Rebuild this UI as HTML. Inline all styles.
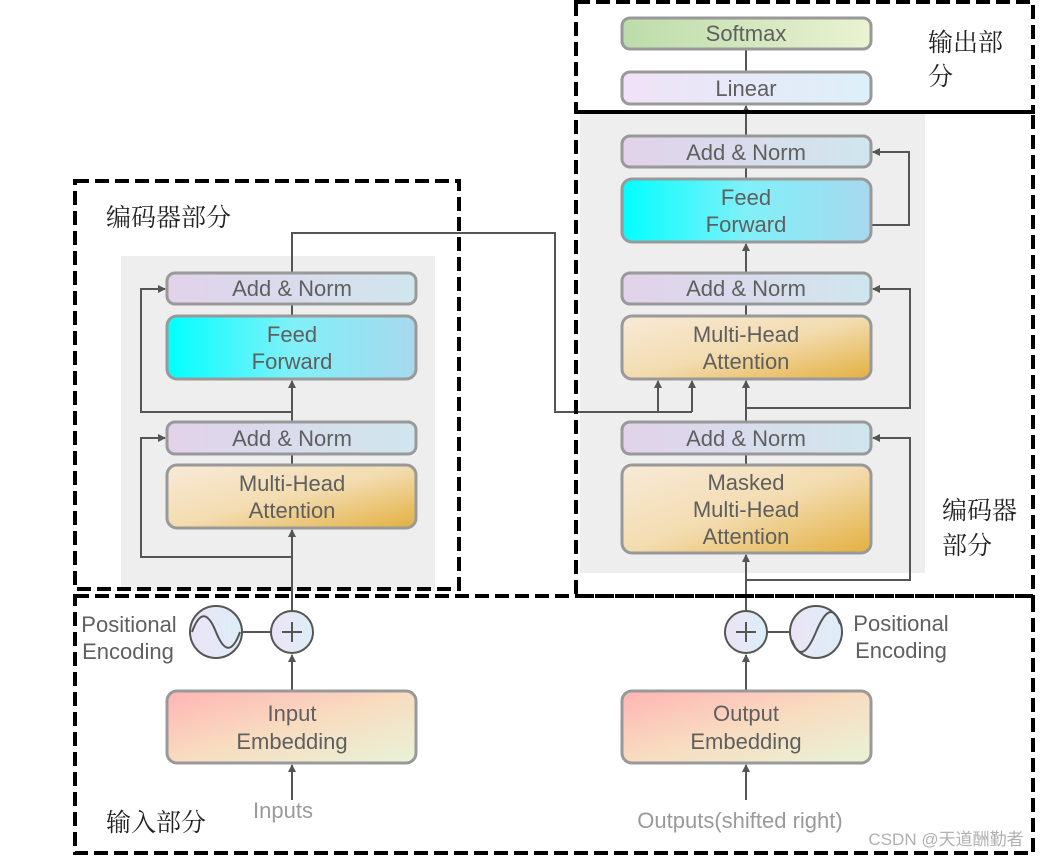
<!DOCTYPE html>
<html><head><meta charset="utf-8"><style>
html,body{margin:0;padding:0;background:#fff;}
svg{display:block;}
text{font-family:"Liberation Sans",sans-serif;fill:#5f5f5f;font-size:22px;text-anchor:middle;}
.cn{font-family:"Liberation Serif","Noto Serif CJK SC","Noto Sans CJK SC",serif;fill:#222;font-size:25px;text-anchor:start;}
.bx{stroke:#999;stroke-width:3;}
.ln{stroke:#555;stroke-width:2;fill:none;}
.dash{stroke:#000;stroke-width:4;fill:none;stroke-dasharray:14,6;}
</style></head><body>
<svg width="1047" height="856" viewBox="0 0 1047 856" xmlns="http://www.w3.org/2000/svg">
<defs>
<linearGradient id="an" x1="0" x2="1" y1="0" y2="0"><stop offset="0" stop-color="#e2d2ea"/><stop offset="1" stop-color="#cfe6ee"/></linearGradient>
<linearGradient id="ff" x1="0" x2="1" y1="0" y2="0"><stop offset="0" stop-color="#00ffff"/><stop offset="0.5" stop-color="#80f0f8"/><stop offset="1" stop-color="#a8d8ee"/></linearGradient>
<linearGradient id="mh" x1="0" x2="1" y1="0" y2="1"><stop offset="0" stop-color="#f8ead8"/><stop offset="0.5" stop-color="#f3dcb0"/><stop offset="1" stop-color="#e3b040"/></linearGradient>
<linearGradient id="em" x1="0" x2="1" y1="0" y2="1"><stop offset="0" stop-color="#ffb4b4"/><stop offset="0.5" stop-color="#f8dcc0"/><stop offset="1" stop-color="#e8f3d8"/></linearGradient>
<linearGradient id="sm" x1="0" x2="1"><stop offset="0" stop-color="#bcdcaa"/><stop offset="1" stop-color="#eaf2d2"/></linearGradient>
<linearGradient id="li" x1="0" x2="1"><stop offset="0" stop-color="#f0e2f8"/><stop offset="1" stop-color="#dcf0f8"/></linearGradient>
<linearGradient id="ci" x1="0" x2="1"><stop offset="0" stop-color="#ece4f6"/><stop offset="1" stop-color="#dceef8"/></linearGradient>
<marker id="ar" markerWidth="8" markerHeight="8" refX="7" refY="4" orient="auto" markerUnits="userSpaceOnUse"><path d="M0,0 L8,4 L0,8 z" fill="#555"/></marker>
</defs>

<!-- gray panels -->
<rect x="121" y="256" width="314" height="334" fill="#eeeeee"/>
<rect x="580" y="112" width="345" height="461" fill="#eeeeee"/>

<!-- connectors left -->
<line class="ln" x1="292" y1="800" x2="292" y2="765" marker-end="url(#ar)"/>
<line class="ln" x1="292" y1="691" x2="292" y2="655" marker-end="url(#ar)"/>
<line class="ln" x1="292" y1="611" x2="292" y2="530" marker-end="url(#ar)"/>
<polyline class="ln" points="292,557 141,557 141,438 165,438" marker-end="url(#ar)"/>
<line class="ln" x1="292" y1="465" x2="292" y2="454"/>
<line class="ln" x1="292" y1="422" x2="292" y2="381" marker-end="url(#ar)"/>
<polyline class="ln" points="292,412 141,412 141,289 165,289" marker-end="url(#ar)"/>
<line class="ln" x1="292" y1="316" x2="292" y2="304"/>
<polyline class="ln" points="292,273 292,233 555,233 555,412 692,412"/>
<line class="ln" x1="658" y1="412" x2="658" y2="381" marker-end="url(#ar)"/>
<line class="ln" x1="692" y1="412" x2="692" y2="381" marker-end="url(#ar)"/>
<line class="ln" x1="268" y1="632" x2="271" y2="632"/>
<line class="ln" x1="242" y1="632" x2="271" y2="632"/>

<!-- connectors right -->
<line class="ln" x1="746" y1="800" x2="746" y2="765" marker-end="url(#ar)"/>
<line class="ln" x1="746" y1="691" x2="746" y2="655" marker-end="url(#ar)"/>
<line class="ln" x1="746" y1="611" x2="746" y2="555" marker-end="url(#ar)"/>
<polyline class="ln" points="746,580 910,580 910,438 873,438" marker-end="url(#ar)"/>
<line class="ln" x1="746" y1="465" x2="746" y2="454"/>
<line class="ln" x1="746" y1="422" x2="746" y2="381" marker-end="url(#ar)"/>
<polyline class="ln" points="746,408 910,408 910,289 873,289" marker-end="url(#ar)"/>
<line class="ln" x1="746" y1="316" x2="746" y2="304"/>
<line class="ln" x1="746" y1="273" x2="746" y2="244" marker-end="url(#ar)"/>
<polyline class="ln" points="746,225 909,225 909,152 873,152" marker-end="url(#ar)"/>
<line class="ln" x1="746" y1="179" x2="746" y2="167"/>
<line class="ln" x1="746" y1="136" x2="746" y2="106" marker-end="url(#ar)"/>
<line class="ln" x1="746" y1="72" x2="746" y2="49"/>
<line class="ln" x1="767" y1="632" x2="790" y2="632"/>

<!-- left boxes -->
<rect class="bx" x="167" y="273" width="249" height="31" rx="8" fill="url(#an)"/>
<text x="292" y="296">Add &amp; Norm</text>
<rect class="bx" x="167" y="316" width="249" height="63" rx="10" fill="url(#ff)"/>
<text x="292" y="342">Feed</text><text x="292" y="369">Forward</text>
<rect class="bx" x="167" y="422" width="249" height="32" rx="8" fill="url(#an)"/>
<text x="292" y="446">Add &amp; Norm</text>
<rect class="bx" x="167" y="465" width="249" height="63" rx="10" fill="url(#mh)"/>
<text x="292" y="491">Multi-Head</text><text x="292" y="518">Attention</text>
<rect class="bx" x="167" y="691" width="249" height="72" rx="10" fill="url(#em)"/>
<text x="292" y="721">Input</text><text x="292" y="749">Embedding</text>

<!-- right boxes -->
<rect class="bx" x="622" y="18" width="249" height="31" rx="8" fill="url(#sm)"/>
<text x="746" y="41">Softmax</text>
<rect class="bx" x="622" y="72" width="249" height="32" rx="8" fill="url(#li)"/>
<text x="746" y="96">Linear</text>
<rect class="bx" x="622" y="136" width="249" height="31" rx="8" fill="url(#an)"/>
<text x="746" y="160">Add &amp; Norm</text>
<rect class="bx" x="622" y="179" width="249" height="63" rx="10" fill="url(#ff)"/>
<text x="746" y="205">Feed</text><text x="746" y="232">Forward</text>
<rect class="bx" x="622" y="273" width="249" height="31" rx="8" fill="url(#an)"/>
<text x="746" y="296">Add &amp; Norm</text>
<rect class="bx" x="622" y="316" width="249" height="63" rx="10" fill="url(#mh)"/>
<text x="746" y="342">Multi-Head</text><text x="746" y="369">Attention</text>
<rect class="bx" x="622" y="422" width="249" height="32" rx="8" fill="url(#an)"/>
<text x="746" y="446">Add &amp; Norm</text>
<rect class="bx" x="622" y="465" width="249" height="88" rx="10" fill="url(#mh)"/>
<text x="746" y="490">Masked</text><text x="746" y="517">Multi-Head</text><text x="746" y="544">Attention</text>
<rect class="bx" x="622" y="691" width="249" height="72" rx="10" fill="url(#em)"/>
<text x="746" y="721">Output</text><text x="746" y="749">Embedding</text>

<!-- circles -->
<g stroke="#555" stroke-width="2" fill="url(#ci)">
<circle cx="216" cy="632" r="26"/>
<circle cx="292" cy="632" r="21"/>
<circle cx="746" cy="632" r="21"/>
<circle cx="816" cy="632" r="26"/>
</g>
<path class="ln" d="M282,632 H302 M292,622 V642 M736,632 H756 M746,622 V642"/>
<path class="ln" d="M192,632 C200,610 208,612 216,632 C224,652 232,654 240,632"/>
<path class="ln" d="M792,640 C798,658 806,656 816,632 C826,608 834,606 840,624"/>

<!-- labels -->
<text x="129" y="632">Positional</text><text x="128" y="659">Encoding</text>
<text x="901" y="631">Positional</text><text x="901" y="658">Encoding</text>
<text x="283" y="818" style="fill:#9a9a9a">Inputs</text>
<text x="740" y="828" style="fill:#9a9a9a">Outputs(shifted right)</text>
<text x="946" y="845" style="fill:#b0b0b0;font-size:17px;font-family:'Liberation Sans','Noto Sans CJK SC',sans-serif">CSDN @天道酬勤者</text>

<text class="cn" x="106" y="226">编码器部分</text>
<text class="cn" x="928" y="51">输出部</text>
<text class="cn" x="928" y="85">分</text>
<text class="cn" x="942" y="519">编码器</text>
<text class="cn" x="942" y="554">部分</text>
<text class="cn" x="106" y="831">输入部分</text>

<!-- dashed boxes -->
<rect class="dash" x="75" y="181" width="384" height="408"/>
<rect class="dash" x="576" y="2" width="457" height="110"/>
<rect class="dash" x="576" y="112" width="457" height="484"/>
<rect class="dash" x="75" y="596" width="958" height="257"/>
</svg>
</body></html>
